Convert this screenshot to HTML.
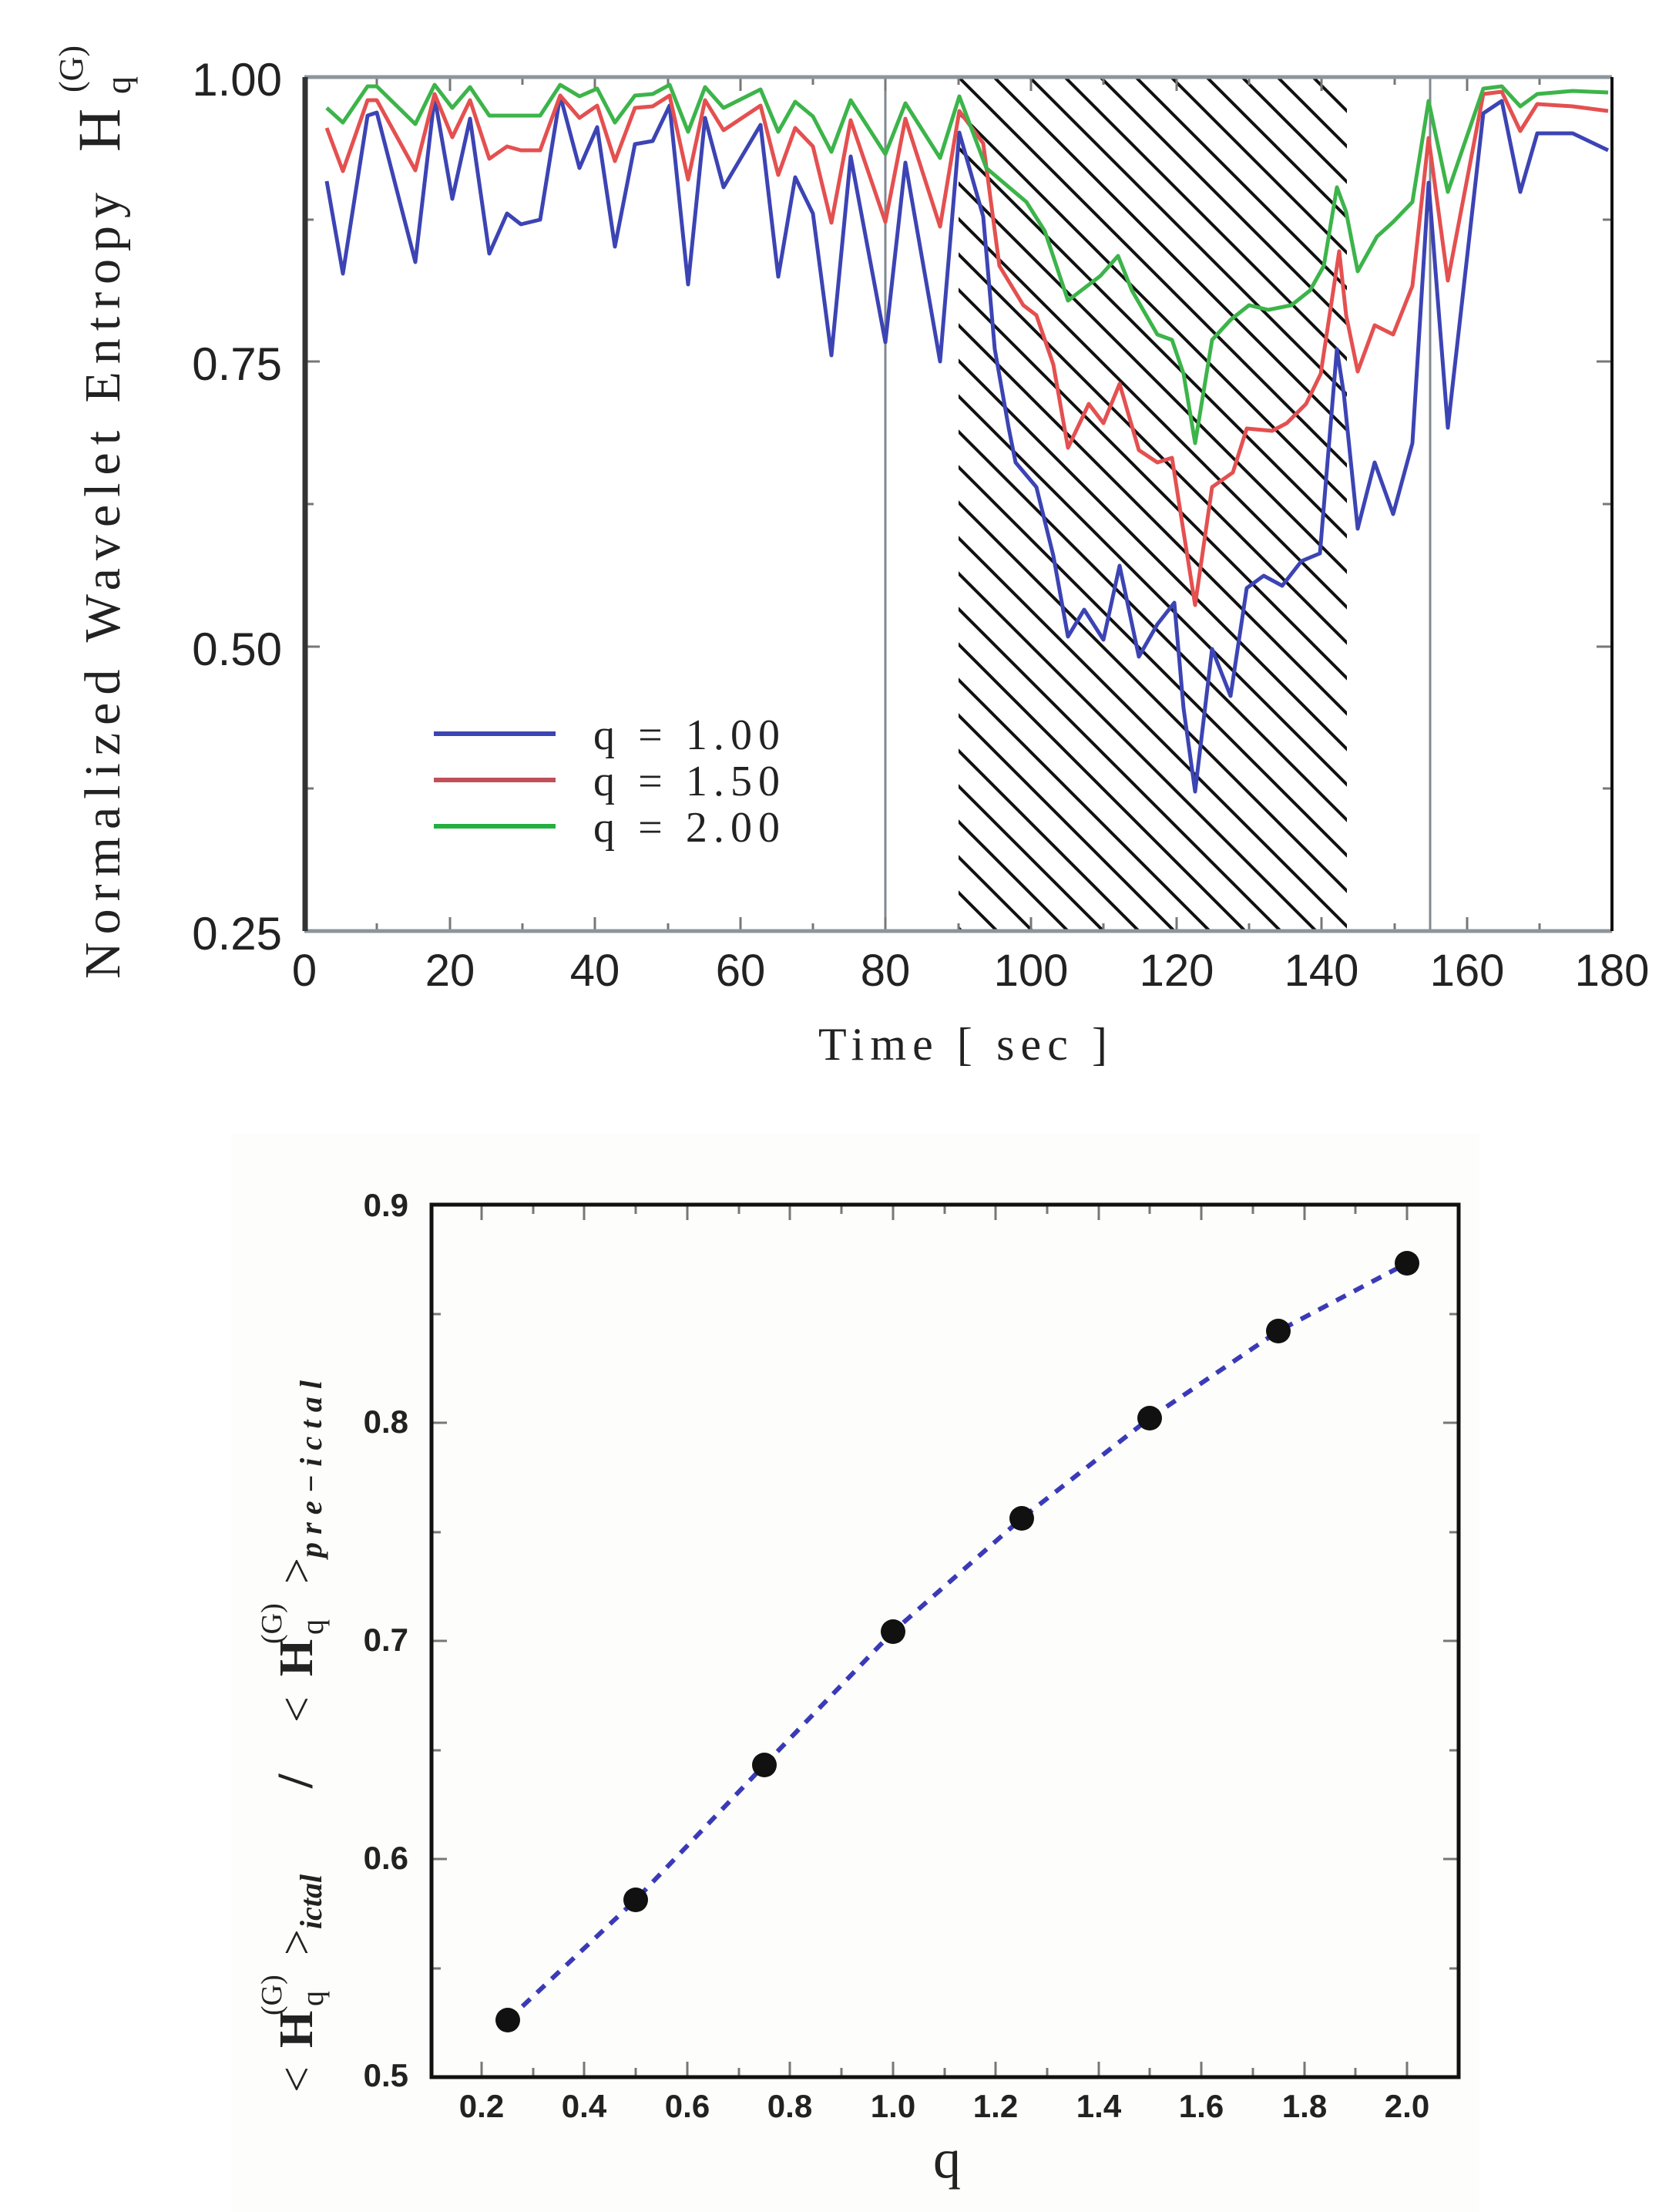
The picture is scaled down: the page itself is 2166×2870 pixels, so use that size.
<!DOCTYPE html>
<html><head><meta charset="utf-8"><style>html,body{margin:0;padding:0;background:#fff}svg{display:block}</style></head>
<body>
<svg xmlns="http://www.w3.org/2000/svg" width="2166" height="2870" viewBox="0 0 2166 2870">
<defs>
<pattern id="h" patternUnits="userSpaceOnUse" width="46" height="46" patternTransform="translate(1244,100)">
<line x1="-5" y1="-5" x2="51" y2="51" stroke="#111" stroke-width="4"/>
<line x1="-28" y1="18" x2="28" y2="74" stroke="#111" stroke-width="4"/>
<line x1="18" y1="-28" x2="74" y2="28" stroke="#111" stroke-width="4"/>
</pattern>
<clipPath id="c1"><rect x="395" y="100" width="1697" height="1108"/></clipPath>
</defs>
<rect width="2166" height="2870" fill="#fff"/>
<rect x="300" y="1470" width="1620" height="1400" fill="#fdfdfb"/>

<!-- TOP PLOT -->
<rect x="1244" y="100" width="504" height="1108" fill="url(#h)"/>
<line x1="1149" y1="100" x2="1149" y2="1208" stroke="#808890" stroke-width="3"/>
<line x1="1856" y1="100" x2="1856" y2="1208" stroke="#808890" stroke-width="3"/>
<g id="ticks" stroke="#777" stroke-width="3">
<path d="M395,1208v-18M489,1208v-10M584,1208v-18M678,1208v-10M772,1208v-18M867,1208v-10M961,1208v-18M1055,1208v-10M1149,1208v-18M1244,1208v-10M1338,1208v-18M1432,1208v-10M1527,1208v-18M1621,1208v-10M1715,1208v-18M1810,1208v-10M1904,1208v-18M1998,1208v-10M2092,1208v-18"/>
<path d="M489,100v10M584,100v18M678,100v10M772,100v18M867,100v10M961,100v18M1055,100v10M1149,100v18M1244,100v10M1338,100v18M1432,100v10M1527,100v18M1621,100v10M1715,100v18M1810,100v10M1904,100v18M1998,100v10"/>
<path d="M395,285h12M395,469h20M395,654h12M395,839h20M395,1023h12M2092,285h-12M2092,469h-20M2092,654h-12M2092,839h-20M2092,1023h-12"/>
</g>
<g clip-path="url(#c1)" fill="none" stroke-width="5" stroke-linejoin="round">
<polyline stroke="#3c44b4" points="424,235 445,355 477,150 489,146 539,340 564,126 587,258 610,154 635,329 658,277 676,291 701,285 727,124 752,218 775,165 798,320 824,187 847,183 869,137 893,369 915,153 939,243 987,162 1010,359 1032,230 1055,277 1079,461 1104,203 1149,444 1175,211 1220,469 1245,172 1276,281 1291,453 1309,555 1318,600 1345,632 1367,721 1386,826 1407,791 1432,830 1453,734 1478,852 1502,810 1524,782 1536,919 1551,1027 1573,842 1597,903 1618,763 1640,747 1664,760 1689,728 1713,718 1735,453 1744,511 1762,686 1784,600 1808,667 1833,575 1854,237 1879,555 1925,147 1949,131 1973,249 1995,173 2041,173 2087,195"/>
<polyline stroke="#e45050" points="424,166 445,222 477,130 489,130 539,221 564,122 587,178 610,130 635,206 658,190 676,195 701,195 727,124 752,153 775,137 798,209 824,140 847,138 869,124 893,233 915,130 939,169 987,137 1010,227 1032,166 1055,190 1079,289 1104,156 1149,288 1175,154 1220,294 1245,144 1276,186 1297,345 1328,396 1345,409 1367,473 1386,581 1413,524 1432,549 1453,498 1478,584 1502,600 1521,594 1536,690 1551,785 1573,632 1600,613 1618,556 1651,559 1670,549 1695,524 1714,485 1738,326 1747,409 1762,482 1784,422 1808,434 1833,371 1854,179 1879,364 1925,122 1949,119 1973,170 1995,135 2041,138 2087,144"/>
<polyline stroke="#3cb44a" points="424,140 445,159 477,112 489,112 539,161 564,110 587,140 610,113 635,150 658,150 676,150 701,150 727,110 752,125 775,115 798,159 824,124 847,122 869,110 893,171 915,113 939,140 987,116 1010,171 1032,132 1055,151 1079,197 1104,130 1149,200 1175,134 1220,205 1245,125 1280,218 1332,262 1356,300 1386,390 1428,358 1451,332 1469,377 1502,434 1521,441 1536,485 1551,575 1573,441 1597,415 1621,396 1646,402 1676,396 1700,377 1718,345 1735,243 1747,275 1762,352 1787,307 1808,288 1833,262 1854,131 1879,249 1925,115 1949,112 1973,138 1995,122 2041,118 2087,120"/>
</g>
<path d="M395,100H2092" stroke="#8d959c" stroke-width="5"/>
<path d="M395,1208H2092" stroke="#8d959c" stroke-width="5"/>
<path d="M396,100V1208" stroke="#333" stroke-width="7"/>
<path d="M2092,100V1208" stroke="#111" stroke-width="4"/>
<g font-family="Liberation Sans, sans-serif" font-size="60" fill="#222" text-anchor="end">
<text x="366" y="124">1.00</text><text x="366" y="493">0.75</text><text x="366" y="863">0.50</text><text x="366" y="1232">0.25</text>
</g>
<g font-family="Liberation Sans, sans-serif" font-size="58" fill="#222" text-anchor="middle">
<text x="395" y="1279">0</text><text x="584" y="1279">20</text><text x="772" y="1279">40</text><text x="961" y="1279">60</text><text x="1149" y="1279">80</text><text x="1338" y="1279">100</text><text x="1527" y="1279">120</text><text x="1715" y="1279">140</text><text x="1904" y="1279">160</text><text x="2092" y="1279">180</text>
</g>
<text x="1062" y="1375" font-family="Liberation Serif, serif" font-size="60" fill="#222" textLength="375">Time [ sec ]</text>
<g transform="translate(155,1270) rotate(-90)" font-family="Liberation Serif, serif" fill="#222">
<text x="0" y="0" font-size="66" textLength="1020">Normalized  Wavelet  Entropy</text>
<text x="1073" y="0" font-size="78">H</text>
<text x="1148" y="14" font-size="46">q</text>
<text x="1150" y="-48" font-size="44">(G)</text>
</g>
<!-- legend -->
<g stroke-width="6">
<line x1="563" y1="952" x2="721" y2="952" stroke="#3c44b4"/>
<line x1="563" y1="1012" x2="721" y2="1012" stroke="#c05058"/>
<line x1="563" y1="1072" x2="721" y2="1072" stroke="#22b040"/>
</g>
<g font-family="Liberation Serif, serif" font-size="56" fill="#222">
<text x="770" y="972" textLength="242">q = 1.00</text>
<text x="770" y="1032" textLength="242">q = 1.50</text>
<text x="770" y="1092" textLength="242">q = 2.00</text>
</g>

<!-- BOTTOM PLOT -->
<g stroke="#777" stroke-width="3">
<path d="M625,2695v-20M692,2695v-12M758,2695v-20M825,2695v-12M892,2695v-20M959,2695v-12M1025,2695v-20M1092,2695v-12M1159,2695v-20M1226,2695v-12M1292,2695v-20M1359,2695v-12M1426,2695v-20M1492,2695v-12M1559,2695v-20M1626,2695v-12M1693,2695v-20M1759,2695v-12M1826,2695v-20"/>
<path d="M625,1563v20M692,1563v12M758,1563v20M825,1563v12M892,1563v20M959,1563v12M1025,1563v20M1092,1563v12M1159,1563v20M1226,1563v12M1292,1563v20M1359,1563v12M1426,1563v20M1492,1563v12M1559,1563v20M1626,1563v12M1693,1563v20M1759,1563v12M1826,1563v20"/>
<path d="M560,2554h12M560,2412h20M560,2271h12M560,2129h20M560,1988h12M560,1846h20M560,1705h12M1893,2554h-12M1893,2412h-20M1893,2271h-12M1893,2129h-20M1893,1988h-12M1893,1846h-20M1893,1705h-12"/>
</g>
<rect x="560" y="1563" width="1333" height="1132" fill="none" stroke="#111" stroke-width="5"/>
<polyline fill="none" stroke="#3a3ab8" stroke-width="6" stroke-dasharray="14,12" points="659,2621 825,2465 992,2290 1159,2117 1326,1970 1492,1840 1659,1727 1826,1639"/>
<g fill="#111">
<circle cx="659" cy="2621" r="16"/><circle cx="825" cy="2465" r="16"/><circle cx="992" cy="2290" r="16"/><circle cx="1159" cy="2117" r="16"/><circle cx="1326" cy="1970" r="16"/><circle cx="1492" cy="1840" r="16"/><circle cx="1659" cy="1727" r="16"/><circle cx="1826" cy="1639" r="16"/>
</g>
<g font-family="Liberation Sans, sans-serif" font-weight="bold" font-size="42" fill="#222" text-anchor="end">
<text x="530" y="2707">0.5</text><text x="530" y="2425">0.6</text><text x="530" y="2142">0.7</text><text x="530" y="1859">0.8</text><text x="530" y="1578">0.9</text>
</g>
<g font-family="Liberation Sans, sans-serif" font-weight="bold" font-size="42" fill="#222" text-anchor="middle">
<text x="625" y="2747">0.2</text><text x="758" y="2747">0.4</text><text x="892" y="2747">0.6</text><text x="1025" y="2747">0.8</text><text x="1159" y="2747">1.0</text><text x="1292" y="2747">1.2</text><text x="1426" y="2747">1.4</text><text x="1559" y="2747">1.6</text><text x="1693" y="2747">1.8</text><text x="1826" y="2747">2.0</text>
</g>
<text x="1229" y="2825" font-family="Liberation Serif, serif" font-size="72" fill="#222" text-anchor="middle">q</text>
<g transform="translate(405,2715) rotate(-90)" font-family="Liberation Serif, serif" fill="#222">
<text x="0" y="0" font-size="60">&lt;</text>
<text x="58" y="0" font-size="62" font-weight="bold">H</text>
<text x="112" y="14" font-size="40">q</text>
<text x="100" y="-40" font-size="38">(G)</text>
<text x="178" y="0" font-size="60">&gt;</text>
<text x="212" y="12" font-size="40" font-style="italic" font-weight="bold">ictal</text>
<text x="395" y="0" font-size="66" font-weight="bold">/</text>
<text x="480" y="0" font-size="60">&lt;</text>
<text x="540" y="0" font-size="62" font-weight="bold">H</text>
<text x="594" y="14" font-size="40">q</text>
<text x="582" y="-40" font-size="38">(G)</text>
<text x="660" y="0" font-size="60">&gt;</text>
<text x="694" y="12" font-size="40" font-style="italic" font-weight="bold" textLength="230">pre−ictal</text>
</g>
</svg>
</body></html>
